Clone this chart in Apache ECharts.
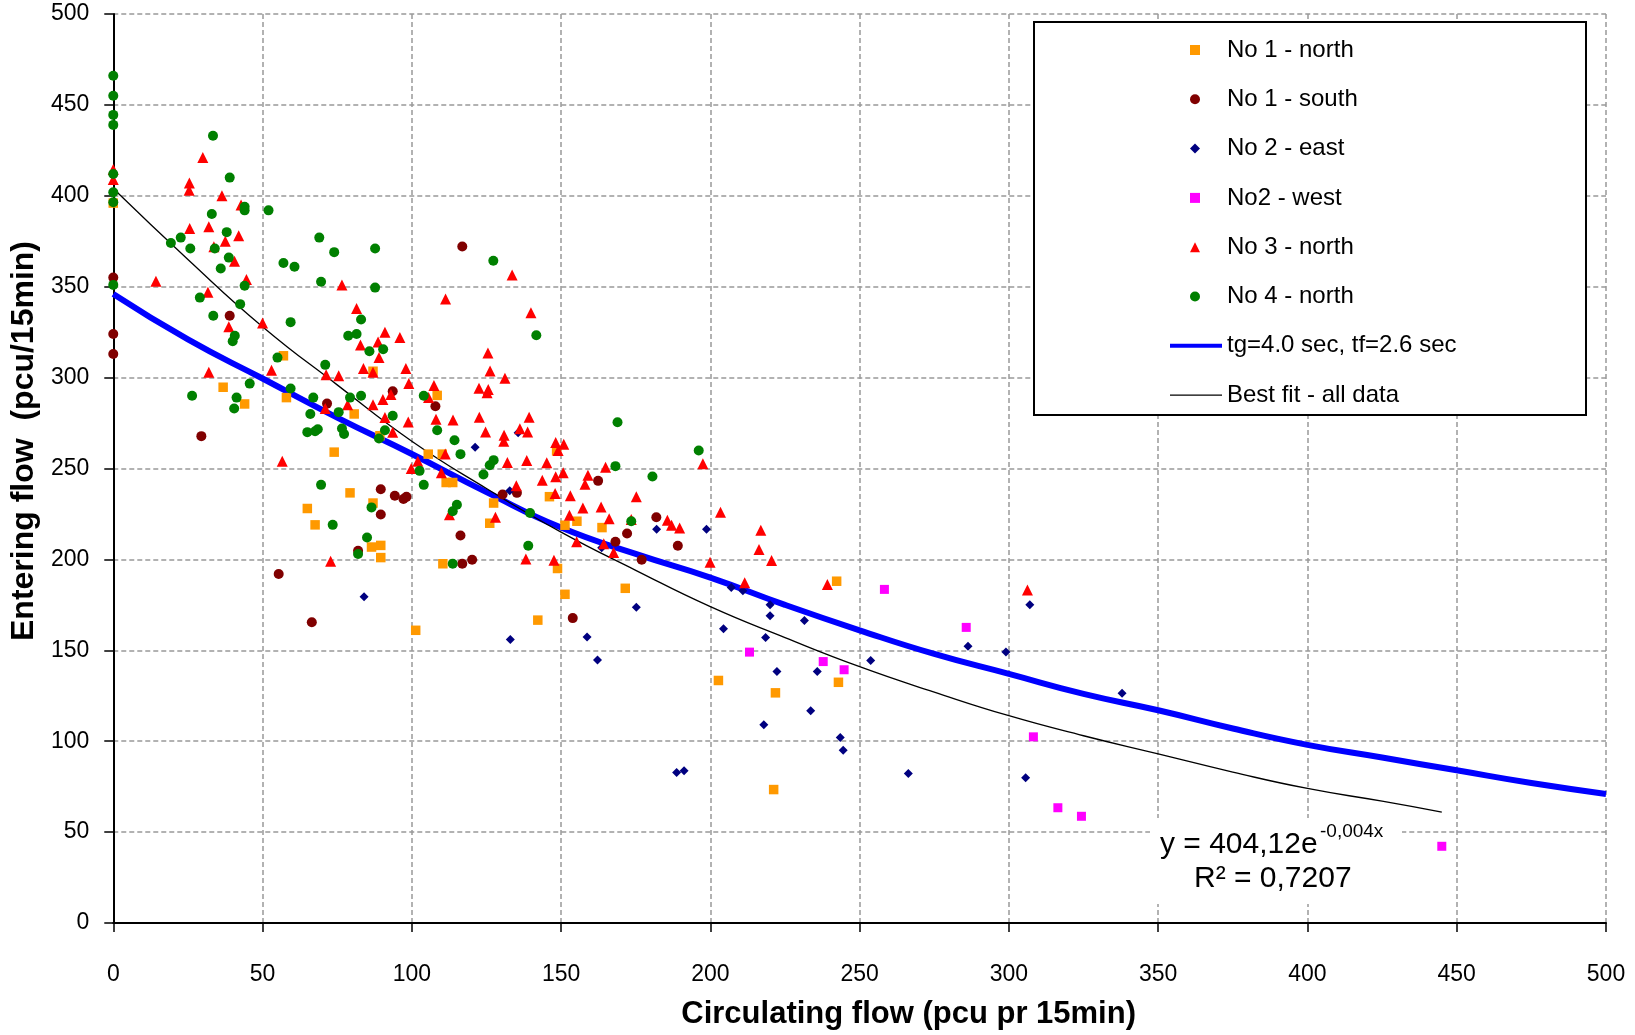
<!DOCTYPE html>
<html>
<head>
<meta charset="utf-8">
<script src="https://cdn.jsdelivr.net/npm/echarts@6/dist/echarts.min.js"></script>
<style>
html, body { margin: 0; padding: 0; background: #fff; }
#chart { width: 1635px; height: 1035px; }
</style>
</head>
<body>
<div id="chart"></div>
<script>
// [circulating flow, entering flow]
var no1North = [
    [0, 396], [36.8, 294.7], [44, 285.5], [57, 312], [58, 289], [65, 228], [67.6, 219], [74, 259],
    [79.3, 236.6], [80.7, 280], [86.5, 206.8], [87, 231], [87, 303.5], [89.3, 268], [89.6, 207.7],
    [89.6, 201], [101.3, 161], [105.5, 257.9], [108.5, 290.2], [110.2, 257.9], [110.4, 197.6],
    [111.5, 242.3], [113.7, 242.3], [126.1, 219.9], [127.4, 231], [142.2, 166.6], [146.1, 234.5],
    [148.5, 259.7], [148.8, 195], [151.3, 218.8], [151.3, 180.8], [155.3, 221], [163.7, 217.5],
    [171.5, 184.1], [202.7, 133.4], [221.2, 73.4], [221.8, 126.6], [242.3, 188], [242.9, 132.4],
]
var no1South = [
    [0, 355], [0, 324], [0, 313], [29.5, 267.8], [39, 334], [55.4, 192], [66.5, 165.4], [71.6, 285.7],
    [82, 204.8], [89.6, 238.6], [89.6, 224.7], [93.6, 292.5], [94.3, 235], [97.2, 233.2], [98.2, 234.4],
    [107.9, 284.2], [116.3, 213.1], [116.9, 197.6], [116.9, 372.1], [120.2, 199.8], [130.4, 235.7],
    [135.2, 236.6], [153.9, 167.7], [162.4, 243.2], [168.2, 209.7], [172.1, 214.2], [177, 199.8],
    [181.9, 223.2], [189.1, 207.5],
]
var no2East = [
    [84, 179.5], [121.2, 261.7], [132.8, 237.8], [133, 155.9], [135.6, 269.7], [158.7, 157.3],
    [162.2, 144.7], [163.6, 206.4], [175.2, 173.7], [182, 216.6], [188.7, 82.8], [191.2, 83.7],
    [198.7, 216.6], [204.4, 161.9], [207, 184.5], [210.9, 182.7], [217.9, 109], [218.5, 157],
    [220, 175.1], [220, 169], [222.3, 138.3], [231.5, 166.4], [233.6, 116.8], [235.8, 138.3],
    [243.5, 102], [244.5, 95], [253.7, 144.4], [266.3, 82.2], [286.3, 152.2], [299, 149.1],
    [305.6, 79.9], [307, 175], [337.9, 126.4],
]
var no2West = [
    [213.1, 149], [237.8, 143.8], [244.8, 139.3], [258.3, 183.5], [285.7, 162.6], [308.2, 102.4],
    [316.4, 63.4], [324.3, 58.7], [445, 42.2],
]
var no3North = [
    [0, 414.5], [0, 409], [14.3, 353], [25.4, 403], [25.5, 407], [25.6, 382], [30, 421], [31.7, 347],
    [32, 383], [32, 303], [33.7, 372], [36.4, 400], [37.5, 375], [38.7, 328], [40.6, 364], [42, 378],
    [42.8, 395], [44.6, 354], [50, 330], [53, 304], [56.6, 254], [71, 283], [71.3, 301.6], [72.8, 199],
    [75.5, 301], [76.6, 351], [78.5, 285], [81.5, 338], [82.8, 318], [83.8, 305], [87, 285], [87, 303],
    [88.7, 319.6], [89, 311], [90.3, 288], [91, 325], [91, 278], [93, 290.7], [93.6, 270], [96, 322],
    [98, 305], [98.8, 275.6], [99, 296.7], [99.8, 250], [102, 254], [105.6, 289], [107.4, 295.7],
    [108.1, 277.1], [109.9, 247.6], [111.2, 258], [111.3, 343.2], [112.6, 224.6], [113.8, 276.7],
    [122.5, 294.2], [122.6, 278.2], [124.7, 270.1], [125.2, 291.7], [125.5, 313.6], [125.6, 293.5],
    [126.2, 303.6], [128, 223.2], [130.8, 265], [130.9, 268.3], [131.2, 299.7], [132, 253.3],
    [133.6, 356.4], [135, 240.5], [136.2, 271.9], [138.2, 200.2], [138.5, 254.4], [138.8, 270.1],
    [139.3, 278.2], [139.9, 335.7], [143.7, 243.6], [145.2, 253.1], [147.6, 199.6], [148, 236.3],
    [148.2, 264.3], [148.2, 245.4], [149, 259.9], [150.7, 247.6], [150.9, 263.3], [152.8, 224.3],
    [153.1, 235], [155.2, 209.7], [157.3, 228.3], [158, 241.4], [159, 246.3], [163.4, 228.8],
    [164.3, 208.6], [164.9, 250.7], [166.1, 222.4], [167.6, 203.8], [173.5, 222], [175.2, 234.5],
    [185.6, 221.5], [187, 218.8], [189.7, 217.3], [197.5, 252.6], [199.9, 198.4], [203.4, 225.9],
    [211.5, 187.2], [216.3, 205.4], [216.9, 216], [220.5, 199.4], [239.2, 186.2], [306.2, 183.2],
]
var no4North = [
    [0, 466], [0, 455], [0, 444.5], [0, 439], [0, 412], [0, 402], [0, 396.5], [0, 351],
    [19.3, 374], [22.6, 377], [25.8, 371], [26.4, 290], [29, 344], [33, 390], [33.4, 433], [33.5, 334],
    [34, 371], [36, 360], [38, 380], [38.7, 366], [39, 410], [40, 320], [40.5, 283], [40.7, 323],
    [41.3, 289], [42.5, 340.4], [44, 394], [44, 392], [44, 350.5], [45.7, 296.7], [52, 392], [55, 311],
    [57, 363], [59.4, 330.5], [59.4, 294], [60.7, 361], [65, 270], [66, 280], [67, 289], [67.6, 270.5],
    [68.5, 271.6], [69, 377], [69.6, 352.7], [69.6, 241], [71, 307], [73.5, 219], [74, 369], [75.5, 281],
    [76.6, 272], [77.3, 269], [78.7, 323], [79.3, 289], [81.5, 324], [82, 203], [83, 332], [83, 290],
    [85, 212], [85.8, 314.5], [86.5, 228.6], [87.7, 371], [87.7, 349.5], [89, 266.5], [90.4, 315.6],
    [91, 271], [93.6, 279], [102.6, 248.7], [104, 290], [104, 241], [108.5, 271], [113.7, 226.5],
    [113.7, 197.6], [114.3, 265.5], [115.1, 230.1], [116.3, 257.9], [124, 246.7], [126.1, 251.8],
    [127.3, 364.3], [127.4, 254.6], [139, 207.5], [139.6, 225.5], [141.7, 323.3], [168.2, 251.3],
    [168.9, 275.4], [173.5, 221], [180.6, 245.6], [196.1, 259.9],
]
// capacity curve (tg=4.0, tf=2.6) and the best fit
var capacityCurve = [
    [0, 346], [25, 321], [50, 299.5], [75, 278], [100, 258], [125, 237], [150, 217.5], [175, 203],
    [200, 190], [225, 175], [250, 161], [275, 148], [300, 137], [325, 126], [350, 117], [375, 107],
    [400, 98], [425, 91], [450, 84], [475, 77], [500, 71],
]
var bestFit = [
    [0, 404], [25, 365], [50, 328], [75, 296], [100, 265], [125, 239], [150, 215], [175, 194],
    [200, 174], [225, 157], [250, 141], [275, 127], [300, 114], [325, 103], [350, 93], [375, 83],
    [400, 74], [425, 67], [445, 61],
]
var pointNames = ['No 1 - north', 'No 1 - south', 'No 2 - east', 'No2 - west', 'No 3 - north', 'No 4 - north']
var lineNames = ['tg=4.0 sec, tf=2.6 sec', 'Best fit - all data']

var FONT = "'Liberation Sans', Arial, sans-serif"

var myChart = echarts.init(document.getElementById('chart'))

function scatter(name, data, symbol, size, color) {
    return {
        name: name,
        type: 'scatter',
        data: data,
        symbol: symbol,
        symbolSize: size,
        itemStyle: { color: color, opacity: 1 },
        z: 3,
    }
}

var axisCommon = {
    type: 'value',
    min: 0,
    max: 500,
    interval: 50,
    axisLine: { show: true, onZero: false, lineStyle: { color: '#000', width: 2 } },
    axisTick: { show: true, inside: false, length: 9, lineStyle: { color: '#000', width: 1.5 } },
    splitLine: { show: true, lineStyle: { color: '#999', type: [5, 3], width: 1.5 } },
    nameLocation: 'middle',
}
var legendText = { fontFamily: FONT, fontSize: 24, color: '#000', lineHeight: 24 }

var option = {
    backgroundColor: '#fff',
    animation: false,
    grid: { left: 110, right: 29, top: 14, bottom: 107 },
    xAxis: Object.assign({}, axisCommon, {
        name: 'Circulating flow (pcu pr 15min)',
        nameGap: 76,
        nameTextStyle: { fontFamily: FONT, fontSize: 31, fontWeight: 'bold', color: '#000', padding: [0, 0, 0, 98] },
        axisLabel: { margin: 40, fontFamily: FONT, fontSize: 23, color: '#000' },
    }),
    yAxis: Object.assign({}, axisCommon, {
        name: 'Entering flow  (pcu/15min)',
        nameGap: 68,
        nameTextStyle: { fontFamily: FONT, fontSize: 32, fontWeight: 'bold', color: '#000', padding: [0, 0, 0, 55] },
        axisLabel: { margin: 24, fontFamily: FONT, fontSize: 23, color: '#000' },
    }),
    legend: [
        {
            orient: 'vertical',
            left: 1190,
            top: 38,
            padding: 0,
            itemWidth: 10,
            itemHeight: 10,
            itemGap: 25.3,
            z: 20,
            textStyle: Object.assign({ padding: [0, 0, 0, 22] }, legendText),
            data: pointNames,
        },
        {
            orient: 'vertical',
            left: 1170,
            top: 38 + 6 * 49.3,
            padding: 0,
            itemWidth: 52,
            itemHeight: 10,
            itemGap: 25.3,
            z: 20,
            textStyle: legendText,
            data: [
                { name: lineNames[0], icon: 'path://M0,0L52,0L52,4L0,4Z' },
                { name: lineNames[1], icon: 'path://M0,0L52,0L52,1.3L0,1.3Z' },
            ],
        },
    ],
    graphic: [
        // legend frame
        { type: 'rect', z: 15, shape: { x: 1034, y: 22, width: 552, height: 393 },
          style: { fill: '#fff', stroke: '#000', lineWidth: 2 } },
        // white box behind the fit equation
        { type: 'rect', z: 15, shape: { x: 1150, y: 818, width: 252, height: 86 }, style: { fill: '#fff' } },
        { type: 'text', z: 16, style: { text: 'y = 404,12e', x: 1160, y: 845, font: '30px ' + FONT, fill: '#000', verticalAlign: 'middle' } },
        { type: 'text', z: 16, style: { text: '-0,004x', x: 1320, y: 832, font: '19px ' + FONT, fill: '#000', verticalAlign: 'middle' } },
        { type: 'text', z: 16, style: { text: 'R² = 0,7207', x: 1194, y: 879, font: '30px ' + FONT, fill: '#000', verticalAlign: 'middle' } },
    ],
    series: [
        {
            name: lineNames[0],
            type: 'line',
            data: capacityCurve,
            symbol: 'none',
            smooth: true,
            lineStyle: { color: '#0000FF', width: 6 },
            itemStyle: { color: '#0000FF' },
            z: 1,
        },
        {
            name: lineNames[1],
            type: 'line',
            data: bestFit,
            symbol: 'none',
            smooth: true,
            lineStyle: { color: '#000', width: 1.3 },
            itemStyle: { color: '#000' },
            z: 2,
        },
        scatter(pointNames[0], no1North, 'rect', 9.5, '#FF9900'),
        scatter(pointNames[1], no1South, 'circle', 10, '#800000'),
        scatter(pointNames[2], no2East, 'diamond', 9, '#000080'),
        scatter(pointNames[3], no2West, 'rect', 9, '#FF00FF'),
        scatter(pointNames[4], no3North, 'triangle', 11, '#FF0000'),
        scatter(pointNames[5], no4North, 'circle', 10, '#008000'),
    ],
}
myChart.setOption(option)
</script>
</body>
</html>
